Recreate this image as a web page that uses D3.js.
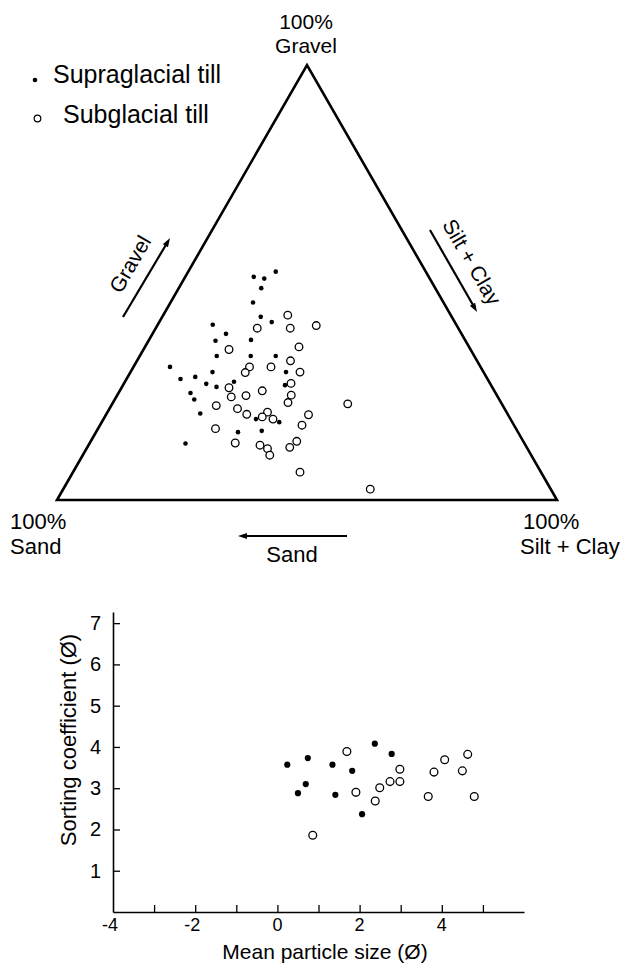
<!DOCTYPE html>
<html>
<head>
<meta charset="utf-8">
<script src="https://cdn.jsdelivr.net/npm/d3@7"></script>
<style>
  body { margin: 0; background: #fff; }
  svg { display: block; font-family: "Liberation Sans", Arial, sans-serif; }
</style>
</head>
<body>
<div id="chart"></div>
<script>
// ternary compositions, percent [gravel, sand, silt + clay]
const supraglacial = [
  [52.5, 30.0, 17.5], [51.3, 35.0, 13.7], [50.9, 33.1, 16.0], [48.7, 34.8, 16.5],
  [45.4, 38.1, 16.5], [42.1, 38.2, 19.7], [40.9, 36.6, 22.5], [40.3, 48.7, 11.0],
  [38.2, 47.1, 14.7], [36.6, 50.0, 13.4], [36.8, 42.8, 20.4], [33.1, 51.5, 15.4],
  [33.1, 44.7, 22.2], [33.1, 39.7, 27.2], [30.6, 62.1, 7.3], [27.8, 61.4, 10.8],
  [28.3, 58.2, 13.5], [29.4, 54.2, 16.4], [26.7, 56.8, 16.5], [26.0, 55.1, 18.9],
  [27.2, 51.0, 21.8], [24.6, 61.0, 14.4], [23.1, 61.0, 15.9], [19.9, 61.4, 18.7],
  [29.4, 39.5, 31.1], [26.4, 41.2, 32.4], [13.0, 67.8, 19.2], [18.6, 50.9, 30.5],
  [17.9, 46.6, 35.5], [15.6, 56.0, 28.4], [15.9, 51.1, 33.0]
];
const subglacial = [
  [39.5, 40.2, 20.3], [34.6, 48.3, 17.1], [30.6, 46.2, 23.2], [30.6, 41.9, 27.5],
  [29.3, 47.7, 23.0], [25.8, 52.7, 21.5], [23.7, 53.3, 23.0], [24.0, 50.2, 25.8],
  [25.1, 46.4, 28.5], [21.7, 57.3, 21.0], [21.0, 53.4, 25.6], [19.7, 52.2, 28.1],
  [20.2, 47.8, 32.0], [19.1, 49.4, 31.5], [18.6, 47.5, 33.9], [16.4, 60.1, 23.5],
  [13.1, 57.8, 29.1], [12.6, 53.1, 34.3], [11.8, 52.0, 36.2], [10.3, 52.3, 37.4],
  [42.5, 32.6, 24.9], [39.5, 33.6, 26.9], [40.1, 28.1, 31.8], [35.2, 34.0, 30.8],
  [32.0, 37.3, 30.7], [29.4, 36.7, 33.9], [26.8, 39.8, 33.4], [24.1, 41.1, 34.8],
  [22.4, 42.6, 35.0], [22.1, 30.8, 47.1], [19.6, 39.9, 40.5], [17.2, 42.4, 40.4],
  [13.5, 45.3, 41.2], [12.1, 47.4, 40.5], [6.4, 48.2, 45.4], [2.5, 36.1, 61.4]
];

// mean particle size (phi) vs sorting coefficient (phi)
const supraMean = [0.24, 0.74, 1.34, 1.82, 2.37, 2.78, 0.69, 0.50, 1.41, 2.06];
const supraSort = [3.57, 3.73, 3.57, 3.42, 4.08, 3.83, 3.10, 2.88, 2.84, 2.37];
const subMean = [1.69, 1.91, 2.49, 2.38, 0.86, 2.74, 2.98, 2.98, 3.81, 4.07, 4.63, 4.50, 3.67, 4.79];
const subSort = [3.89, 2.90, 3.01, 2.69, 1.86, 3.16, 3.46, 3.16, 3.39, 3.69, 3.82, 3.42, 2.80, 2.80];

const xTicks = [-3, -2, -1, 0, 1, 2, 3, 4, 5];
const xTickLabels = [-4, -2, 0, 2, 4];
const yTicks = [1, 2, 3, 4, 5, 6, 7];

const W = 625, H = 965;
const svg = d3.select("#chart").append("svg")
    .attr("width", W)
    .attr("height", H);

// --- Ternary diagram ---
const apex = { x: 307, y: 65 }, left = 57, right = 557, base = 500;
const gy = d3.scaleLinear().domain([0, 100]).range([base, apex.y]);
const bx = d3.scaleLinear().domain([0, 100]).range([left, right]);
const proj = d => [bx(d[2] + d[0] / 2), gy(d[0])];

svg.append("path")
    .attr("d", `M${bx(0)},${gy(0)} L${bx(50)},${gy(100)} L${bx(100)},${gy(0)} Z`)
    .attr("fill", "none")
    .attr("stroke", "#000")
    .attr("stroke-width", 2.6)
    .attr("stroke-linejoin", "miter");

svg.selectAll(".supra")
    .data(supraglacial)
    .enter().append("circle")
    .attr("cx", d => proj(d)[0])
    .attr("cy", d => proj(d)[1])
    .attr("r", 2.3)
    .attr("fill", "#000");

svg.selectAll(".sub")
    .data(subglacial)
    .enter().append("circle")
    .attr("cx", d => proj(d)[0])
    .attr("cy", d => proj(d)[1])
    .attr("r", 3.8)
    .attr("fill", "#fff")
    .attr("stroke", "#000")
    .attr("stroke-width", 1.3);

// arrows beside the sides
function arrow(x1, y1, x2, y2) {
    const a = Math.atan2(y2 - y1, x2 - x1), len = 9, hw = 3;
    svg.append("line")
        .attr("x1", x1).attr("y1", y1)
        .attr("x2", x2 - Math.cos(a) * 4).attr("y2", y2 - Math.sin(a) * 4)
        .attr("stroke", "#000").attr("stroke-width", 2.2);
    const bxp = x2 - Math.cos(a) * len, byp = y2 - Math.sin(a) * len;
    svg.append("path")
        .attr("d", `M${x2},${y2} L${bxp - Math.sin(a) * hw},${byp + Math.cos(a) * hw} L${bxp + Math.sin(a) * hw},${byp - Math.cos(a) * hw} Z`)
        .attr("fill", "#000");
}
arrow(123, 317, 170, 238);
arrow(430, 230, 477, 312);
arrow(347, 536, 238, 536);

const label = (x, y, txt, size, anchor, rot) => svg.append("text")
    .attr("transform", `translate(${x},${y})` + (rot ? ` rotate(${rot})` : ""))
    .attr("text-anchor", anchor)
    .attr("font-size", size)
    .attr("fill", "#000")
    .text(txt);

label(306, 29, "100%", 21, "middle");
label(306, 53, "Gravel", 21, "middle");
label(10, 529, "100%", 22, "start");
label(10, 554, "Sand", 22, "start");
label(523, 529, "100%", 22, "start");
label(520, 554, "Silt + Clay", 22, "start");
label(292, 562, "Sand", 22, "middle");
label(130, 264, "Gravel", 21, "middle", -60).attr("dy", "0.35em");
label(472, 262, "Silt + Clay", 21, "middle", 60).attr("dy", "0.35em");

// legend
svg.append("circle").attr("cx", 35).attr("cy", 80).attr("r", 2.3).attr("fill", "#000");
label(53, 83, "Supraglacial till", 25, "start");
svg.append("circle").attr("cx", 37.5).attr("cy", 118.5).attr("r", 3.3)
    .attr("fill", "#fff").attr("stroke", "#000").attr("stroke-width", 1.2);
label(63, 123, "Subglacial till", 25, "start");

// --- Scatter plot ---
const x = d3.scaleLinear().domain([-4, 6]).range([113, 524]);
const y = d3.scaleLinear().domain([0, 7.27]).range([912, 612]);

const xAxis = svg.append("g")
    .attr("transform", `translate(0,${y(0)})`)
    .call(d3.axisBottom(x).tickValues(xTicks).tickSizeInner(-7).tickSizeOuter(0).tickFormat(""));
xAxis.select(".domain").attr("stroke-width", 1.6);
xAxis.selectAll(".tick line").attr("stroke-width", 1.3);

svg.selectAll(".xlab")
    .data(xTickLabels)
    .enter().append("text")
    .attr("x", d => x(d) - (d < 0 ? 3 : 0))
    .attr("y", y(0) + 19)
    .attr("text-anchor", "middle")
    .attr("font-size", 18)
    .text(d => d);

const yAxis = svg.append("g")
    .attr("transform", `translate(${x(-4)},0)`)
    .call(d3.axisLeft(y).tickValues(yTicks).tickSizeInner(-7).tickSizeOuter(0).tickPadding(12));
yAxis.select(".domain").attr("stroke-width", 1.6);
yAxis.selectAll(".tick text")
    .attr("font-size", 20)
    .attr("font-family", "Liberation Sans, Arial, sans-serif");
yAxis.selectAll(".tick line").attr("stroke-width", 1.3);

svg.selectAll(".sp")
    .data(supraMean)
    .enter().append("circle")
    .attr("cx", d => x(d))
    .attr("cy", (d, i) => y(supraSort[i]))
    .attr("r", 3.1)
    .attr("fill", "#000");

svg.selectAll(".sb")
    .data(subMean)
    .enter().append("circle")
    .attr("cx", d => x(d))
    .attr("cy", (d, i) => y(subSort[i]))
    .attr("r", 3.9)
    .attr("fill", "#fff")
    .attr("stroke", "#000")
    .attr("stroke-width", 1.3);

label(325, 959, "Mean particle size (Ø)", 21, "middle");
label(76, 740, "Sorting coefficient (Ø)", 22, "middle", -90);
</script>
</body>
</html>
